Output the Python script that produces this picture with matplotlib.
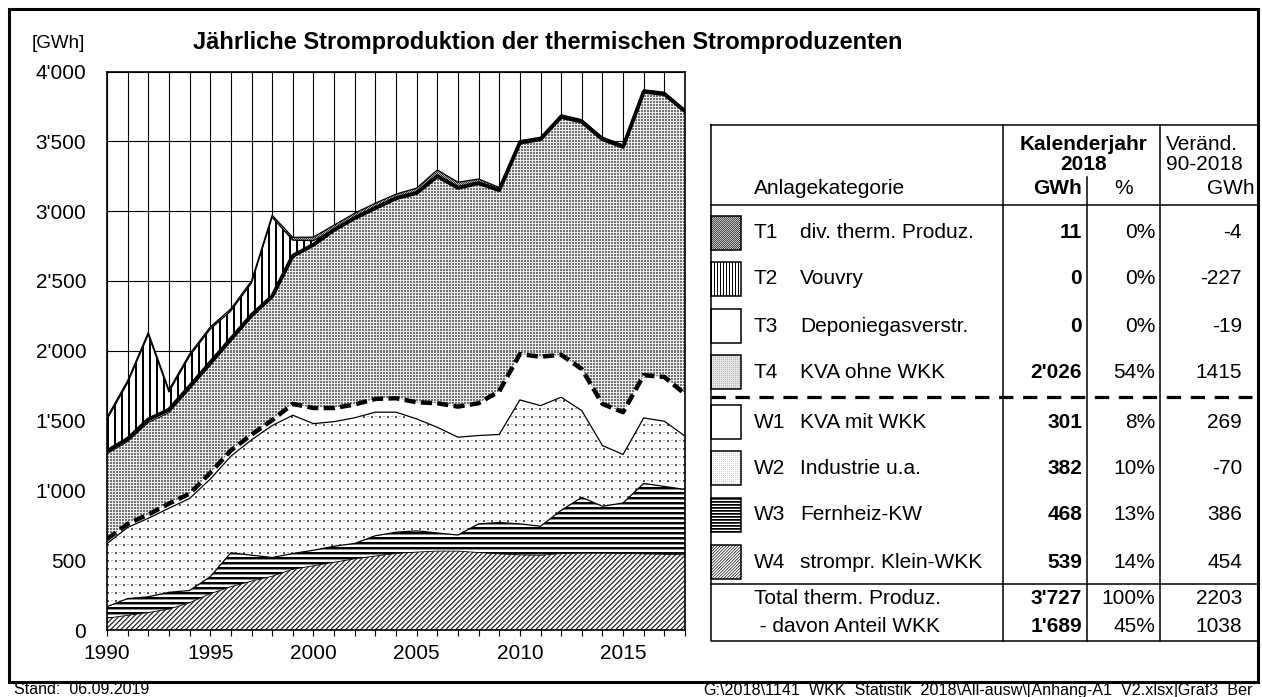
import numpy as np
import matplotlib
matplotlib.use('Agg')
import matplotlib.pyplot as plt
from matplotlib.patches import PathPatch, Rectangle
from matplotlib.ticker import FuncFormatter

plt.rcParams['font.family'] = ['Liberation Sans', 'DejaVu Sans']

# ---- chart data (GWh per year) ----
years = list(range(1990, 2019))
w4 = [85, 105, 125, 150, 195, 260, 310, 350, 385, 435, 460, 485, 510, 530, 548,
      558, 565, 565, 555, 545, 538, 535, 548, 550, 550, 548, 545, 542, 539]
w3 = [82, 120, 113, 120, 88, 121, 243, 186, 134, 113, 111, 115, 110, 145, 152,
      152, 130, 115, 205, 225, 222, 208, 309, 400, 336, 362, 505, 486, 468]
w2 = [452, 510, 562, 602, 659, 699, 692, 826, 945, 990, 907, 892, 900, 885, 860,
      802, 757, 701, 633, 630, 888, 864, 810, 621, 435, 347, 469, 467, 382]
w1 = [32, 25, 27, 33, 34, 45, 41, 37, 39, 81, 112, 98, 95, 95, 100,
      119, 172, 219, 231, 310, 328, 350, 304, 298, 298, 303, 306, 317, 301]
t4 = [611, 589, 659, 651, 749, 770, 781, 840, 873, 1049, 1160, 1267, 1329, 1362, 1428,
      1496, 1623, 1565, 1574, 1439, 1513, 1557, 1703, 1770, 1896, 1900, 2030, 2026, 2026]
t3 = [19, 20, 22, 22, 20, 20, 18, 16, 14, 12, 10, 8, 6, 5, 4,
      3, 3, 2, 2, 1, 1, 1, 1, 1, 0, 0, 0, 0, 0]
t2 = [227, 402, 608, 127, 216, 240, 200, 230, 566, 112, 29, 0, 0, 0, 0,
      0, 0, 0, 0, 0, 0, 0, 0, 0, 0, 0, 0, 0, 0]
t1 = [15, 15, 15, 15, 15, 15, 15, 15, 15, 20, 25, 35, 35, 35, 30,
      35, 45, 40, 30, 20, 15, 14, 15, 15, 14, 15, 14, 14, 11]

# ---- table data ----
codes = ['T1', 'T2', 'T3', 'T4', 'W1', 'W2', 'W3', 'W4']
names = ['div. therm. Produz.', 'Vouvry', 'Deponiegasverstr.', 'KVA ohne WKK',
         'KVA mit WKK', 'Industrie u.a.', 'Fernheiz-KW', 'strompr. Klein-WKK']
gwh_2018 = ['11', '0', '0', "2'026", '301', '382', '468', '539']
pct_2018 = ['0%', '0%', '0%', '54%', '8%', '10%', '13%', '14%']
chg_90 = ['-4', '-227', '-19', '1415', '269', '-70', '386', '454']
tot_names = ['Total therm. Produz.', ' - davon Anteil WKK']
tot_gwh = ["3'727", "1'689"]
tot_pct = ['100%', '45%']
tot_chg = ['2203', '1038']


def texture(kind, h, w):
    r = np.arange(h)[:, None]
    c = np.arange(w)[None, :]
    v = np.ones((h, w))
    if kind == 'diag':
        v = np.array([0.2, 0.45, 1, 1, 0.85])[(r + c) % 5]
    elif kind == 'hstripe':
        v = np.broadcast_to(np.array([0.0, 0.0, 0.55, 1, 1])[r % 5], (h, w)).copy()
    elif kind == 'sparse':
        v[(r % 8 < 2) & (c % 8 < 2)] = 0.35
        v[(r % 8 == 0) & ((c % 8 == 4) | (c % 8 == 5))] = 0.75
    elif kind == 'dense':
        v = np.where((r % 3 == 2) | (c % 3 == 2), 0.93, 0.45)
    elif kind == 'dark':
        v = np.where((r + c) % 2 == 0, 0.25, 0.7)
    elif kind == 'vstripe':
        v = np.broadcast_to(np.array([0.0, 0.0, 1, 1, 1, 1, 1])[c % 7], (h, w)).copy()
    # small swatch versions
    elif kind == 's_dark':
        v = np.where((r + c) % 2 == 0, 0.3, 0.75)
    elif kind == 's_vstripe':
        v = np.broadcast_to(np.array([0.0, 1, 1])[c % 3], (h, w)).copy()
    elif kind == 's_dense':
        v = np.where((r % 2 == 0) & (c % 2 == 0), 0.7, 0.9)
    elif kind == 's_sparse':
        v = np.where((r % 2 == 0) & (c % 2 == 0), 0.82, 1.0)
    elif kind == 's_hstripe':
        v = np.broadcast_to(np.array([0.0, 0.25, 1])[r % 3], (h, w)).copy()
    elif kind == 's_diag':
        v = np.array([0.35, 0.75, 1])[(r + c) % 3]
    return np.dstack([v, v, v])


W, H = 1262, 697
fig = plt.figure(figsize=(W / 100, H / 100), dpi=100)

# overlay in pixel coordinates (frame, title, table, footer)
ov = fig.add_axes([0, 0, 1, 1])
ov.set_xlim(0, W)
ov.set_ylim(H, 0)
ov.axis('off')

ax_l, ax_r, ax_t, ax_b = 107, 685, 71.5, 630
ax = fig.add_axes([ax_l / W, (H - ax_b) / H, (ax_r - ax_l) / W, (ax_b - ax_t) / H])

layers = [w4, w3, w2, w1, t4, t3, t2, t1]
kinds = ['diag', 'hstripe', 'sparse', None, 'dense', None, 'vstripe', 'dark']
cum = np.cumsum(np.array(layers, dtype=float), axis=0)
low = np.vstack([np.zeros(len(years)), cum[:-1]])

th, tw = int(ax_b - ax_t), ax_r - ax_l
for i, kind in enumerate(kinds):
    poly = ax.fill_between(years, low[i], cum[i], facecolor='white' if kind is None else 'none',
                           edgecolor='none', linewidth=0, zorder=1)
    if kind is not None:
        im = ax.imshow(texture(kind, th, tw), extent=(1990, 2018, 0, 4000), aspect='auto',
                       interpolation='nearest', origin='upper', zorder=1.5)
        im.set_clip_path(PathPatch(poly.get_paths()[0], transform=ax.transData))

ax.plot(years, cum[0], color='black', lw=0.6, zorder=3)
ax.plot(years, cum[1], color='black', lw=0.9, zorder=3)
ax.plot(years, cum[2], color='black', lw=0.9, zorder=3)
ax.plot(years, cum[4], color='black', lw=0.7, zorder=3)
ax.plot(years, cum[5], color='black', lw=2.8, zorder=3.5, solid_joinstyle='round')
ax.plot(years, cum[6], color='black', lw=0.9, zorder=3)
ax.plot(years, cum[7], color='black', lw=0.9, zorder=3)
ax.plot(years, cum[3], color='black', lw=3.2, linestyle=(0, (2.5, 1.2)), zorder=4)

ax.set_xlim(1990, 2018)
ax.set_ylim(0, 4000)
ax.set_xticks(years)
ax.set_xticklabels([str(y) if y % 5 == 0 else '' for y in years])
ax.set_yticks(range(0, 4001, 500))
ax.yaxis.set_major_formatter(FuncFormatter(lambda v, p: f"{int(v):,}".replace(',', "'")))
ax.grid(True, color='black', lw=0.8)
ax.set_axisbelow(True)
ax.tick_params(axis='x', direction='out', length=4, width=0.8, labelsize=15, pad=6)
ax.tick_params(axis='y', length=0, labelsize=15, pad=15)
for s in ax.spines.values():
    s.set_linewidth(1.2)
    s.set_zorder(5)

# frame, title
ov.add_patch(Rectangle((9, 9), 1249, 673, fill=False, lw=2.2, ec='black'))
ov.text(32, 43, '[GWh]', fontsize=13.5, va='center', ha='left')
ov.text(193, 43, 'Jährliche Stromproduktion der thermischen Stromproduzenten',
        fontsize=17, fontweight='bold', va='center', ha='left')

# table
L, C1, C2, C3, R = 711, 1003, 1087, 1160, 1258
top, hl, dash_y, tl, bot = 125, 205, 397, 584, 641
lw_t = 1.1
ov.plot([L, R, R, L, L], [top, top, bot, bot, top], color='black', lw=lw_t)
ov.plot([L, R], [hl, hl], color='black', lw=lw_t)
ov.plot([L, R], [tl, tl], color='black', lw=lw_t)
ov.plot([C1, C1], [top, bot], color='black', lw=lw_t)
ov.plot([C3, C3], [top, bot], color='black', lw=lw_t)
ov.plot([C2, C2], [177, bot], color='black', lw=lw_t)
ov.plot([L, R - 6], [dash_y, dash_y], color='black', lw=2.3, linestyle=(0, (4.5, 3)))

fs = 15
ov.text((C1 + C3) / 2 + 2, 145, 'Kalenderjahr', fontsize=fs, fontweight='bold', ha='center', va='center')
ov.text((C1 + C3) / 2 + 2, 165, '2018', fontsize=fs, fontweight='bold', ha='center', va='center')
ov.text(C2 - 5, 188, 'GWh', fontsize=fs, fontweight='bold', ha='right', va='center')
ov.text((C2 + C3) / 2, 188, '%', fontsize=fs, ha='center', va='center')
ov.text(754, 188, 'Anlagekategorie', fontsize=fs, ha='left', va='center')
ov.text(C3 + 6, 145, 'Veränd.', fontsize=fs, ha='left', va='center')
ov.text(C3 + 6, 165, '90-2018', fontsize=fs, ha='left', va='center')
ov.text(R - 3, 188, 'GWh', fontsize=fs, ha='right', va='center')

row_y = [233, 279, 326, 372, 422, 468, 515, 562]
sw_kinds = ['s_dark', 's_vstripe', None, 's_dense', None, 's_sparse', 's_hstripe', 's_diag']
for i, yc in enumerate(row_y):
    if sw_kinds[i] is not None:
        ov.imshow(texture(sw_kinds[i], 34, 30), extent=(L, L + 30, yc + 17, yc - 17),
                  interpolation='nearest', aspect='auto', zorder=1)
    ov.add_patch(Rectangle((L, yc - 17), 30, 34, fill=False, lw=lw_t, ec='black', zorder=2))
    ov.text(754, yc, codes[i], fontsize=fs, ha='left', va='center')
    ov.text(800, yc, names[i], fontsize=fs, ha='left', va='center')
    ov.text(C2 - 5, yc, gwh_2018[i], fontsize=fs, fontweight='bold', ha='right', va='center')
    ov.text(C3 - 5, yc, pct_2018[i], fontsize=fs, ha='right', va='center')
    ov.text(R - 16, yc, chg_90[i], fontsize=fs, ha='right', va='center')

for j, yc in enumerate([599, 626]):
    ov.text(754, yc, tot_names[j], fontsize=fs, ha='left', va='center')
    ov.text(C2 - 5, yc, tot_gwh[j], fontsize=fs, fontweight='bold', ha='right', va='center')
    ov.text(C3 - 5, yc, tot_pct[j], fontsize=fs, ha='right', va='center')
    ov.text(R - 16, yc, tot_chg[j], fontsize=fs, ha='right', va='center')

ov.set_xlim(0, W)
ov.set_ylim(H, 0)

# footer
ov.text(14, 694.5, 'Stand:  06.09.2019', fontsize=11.5, ha='left', va='baseline')
ov.text(703, 694.5, 'G:\\2018\\1141_WKK_Statistik_2018\\All-ausw\\[Anhang-A1_V2.xlsx]Graf3_Ber',
        fontsize=11.6, ha='left', va='baseline')

fig.savefig('out.png', dpi=100)
